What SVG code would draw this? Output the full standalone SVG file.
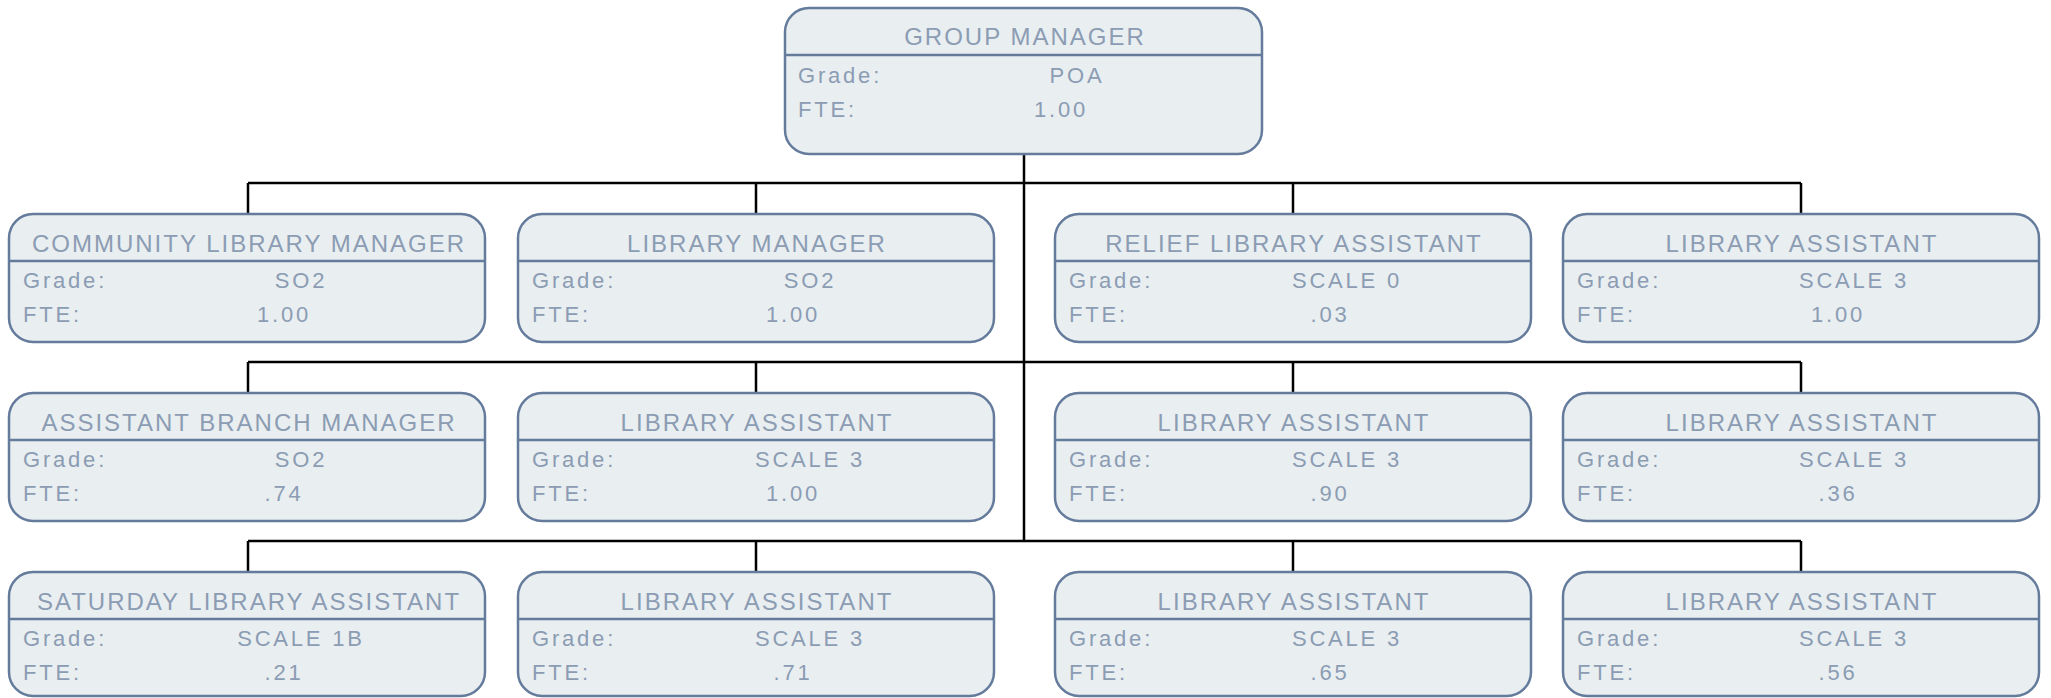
<svg xmlns="http://www.w3.org/2000/svg" width="2051" height="698" viewBox="0 0 2051 698">
<style>
.box{fill:#e9eef1;stroke:#647b9c;stroke-width:2.5}
.div{stroke:#647b9c;stroke-width:2.5}
.t{font-family:"Liberation Sans",Arial,sans-serif;fill:#8b9cb3}
.title{font-size:24px;letter-spacing:2px;text-anchor:middle}
.lbl{font-size:22px;letter-spacing:2.8px}
.val{font-size:22px;letter-spacing:2.8px;text-anchor:middle}
.c{stroke:#000;stroke-width:2.5;fill:none}
</style>
<rect width="2051" height="698" fill="#fff"/>
<g id="connectors">
<path class="c" d="M1024 154V541"/>
<path class="c" d="M248 183H1801M248 183V214M756 183V214M1293 183V214M1801 183V214"/>
<path class="c" d="M248 362H1801M248 362V393M756 362V393M1293 362V393M1801 362V393"/>
<path class="c" d="M248 541H1801M248 541V572M756 541V572M1293 541V572M1801 541V572"/>
</g>
<g id="n0">
<rect class="box" x="785" y="8" width="477" height="146" rx="24"/>
<path class="div" d="M785 55H1262"/>
<text class="t title" x="1025" y="45">GROUP MANAGER</text>
<text class="t lbl" x="798" y="83">Grade:</text>
<text class="t val" x="1077" y="83">POA</text>
<text class="t lbl" x="798" y="117">FTE:</text>
<text class="t val" x="1061" y="117">1.00</text>
</g>
<g id="n1">
<rect class="box" x="9" y="214" width="476" height="128" rx="24"/>
<path class="div" d="M9 261H485"/>
<text class="t title" x="249" y="252">COMMUNITY LIBRARY MANAGER</text>
<text class="t lbl" x="23" y="288">Grade:</text>
<text class="t val" x="301" y="288">SO2</text>
<text class="t lbl" x="23" y="322">FTE:</text>
<text class="t val" x="284" y="322">1.00</text>
</g>
<g id="n2">
<rect class="box" x="518" y="214" width="476" height="128" rx="24"/>
<path class="div" d="M518 261H994"/>
<text class="t title" x="757" y="252">LIBRARY MANAGER</text>
<text class="t lbl" x="532" y="288">Grade:</text>
<text class="t val" x="810" y="288">SO2</text>
<text class="t lbl" x="532" y="322">FTE:</text>
<text class="t val" x="793" y="322">1.00</text>
</g>
<g id="n3">
<rect class="box" x="1055" y="214" width="476" height="128" rx="24"/>
<path class="div" d="M1055 261H1531"/>
<text class="t title" x="1294" y="252">RELIEF LIBRARY ASSISTANT</text>
<text class="t lbl" x="1069" y="288">Grade:</text>
<text class="t val" x="1347" y="288">SCALE 0</text>
<text class="t lbl" x="1069" y="322">FTE:</text>
<text class="t val" x="1330" y="322">.03</text>
</g>
<g id="n4">
<rect class="box" x="1563" y="214" width="476" height="128" rx="24"/>
<path class="div" d="M1563 261H2039"/>
<text class="t title" x="1802" y="252">LIBRARY ASSISTANT</text>
<text class="t lbl" x="1577" y="288">Grade:</text>
<text class="t val" x="1854" y="288">SCALE 3</text>
<text class="t lbl" x="1577" y="322">FTE:</text>
<text class="t val" x="1838" y="322">1.00</text>
</g>
<g id="n5">
<rect class="box" x="9" y="393" width="476" height="128" rx="24"/>
<path class="div" d="M9 440H485"/>
<text class="t title" x="249" y="431">ASSISTANT BRANCH MANAGER</text>
<text class="t lbl" x="23" y="467">Grade:</text>
<text class="t val" x="301" y="467">SO2</text>
<text class="t lbl" x="23" y="501">FTE:</text>
<text class="t val" x="284" y="501">.74</text>
</g>
<g id="n6">
<rect class="box" x="518" y="393" width="476" height="128" rx="24"/>
<path class="div" d="M518 440H994"/>
<text class="t title" x="757" y="431">LIBRARY ASSISTANT</text>
<text class="t lbl" x="532" y="467">Grade:</text>
<text class="t val" x="810" y="467">SCALE 3</text>
<text class="t lbl" x="532" y="501">FTE:</text>
<text class="t val" x="793" y="501">1.00</text>
</g>
<g id="n7">
<rect class="box" x="1055" y="393" width="476" height="128" rx="24"/>
<path class="div" d="M1055 440H1531"/>
<text class="t title" x="1294" y="431">LIBRARY ASSISTANT</text>
<text class="t lbl" x="1069" y="467">Grade:</text>
<text class="t val" x="1347" y="467">SCALE 3</text>
<text class="t lbl" x="1069" y="501">FTE:</text>
<text class="t val" x="1330" y="501">.90</text>
</g>
<g id="n8">
<rect class="box" x="1563" y="393" width="476" height="128" rx="24"/>
<path class="div" d="M1563 440H2039"/>
<text class="t title" x="1802" y="431">LIBRARY ASSISTANT</text>
<text class="t lbl" x="1577" y="467">Grade:</text>
<text class="t val" x="1854" y="467">SCALE 3</text>
<text class="t lbl" x="1577" y="501">FTE:</text>
<text class="t val" x="1838" y="501">.36</text>
</g>
<g id="n9">
<rect class="box" x="9" y="572" width="476" height="124" rx="24"/>
<path class="div" d="M9 619H485"/>
<text class="t title" x="249" y="610">SATURDAY LIBRARY ASSISTANT</text>
<text class="t lbl" x="23" y="646">Grade:</text>
<text class="t val" x="301" y="646">SCALE 1B</text>
<text class="t lbl" x="23" y="680">FTE:</text>
<text class="t val" x="284" y="680">.21</text>
</g>
<g id="n10">
<rect class="box" x="518" y="572" width="476" height="124" rx="24"/>
<path class="div" d="M518 619H994"/>
<text class="t title" x="757" y="610">LIBRARY ASSISTANT</text>
<text class="t lbl" x="532" y="646">Grade:</text>
<text class="t val" x="810" y="646">SCALE 3</text>
<text class="t lbl" x="532" y="680">FTE:</text>
<text class="t val" x="793" y="680">.71</text>
</g>
<g id="n11">
<rect class="box" x="1055" y="572" width="476" height="124" rx="24"/>
<path class="div" d="M1055 619H1531"/>
<text class="t title" x="1294" y="610">LIBRARY ASSISTANT</text>
<text class="t lbl" x="1069" y="646">Grade:</text>
<text class="t val" x="1347" y="646">SCALE 3</text>
<text class="t lbl" x="1069" y="680">FTE:</text>
<text class="t val" x="1330" y="680">.65</text>
</g>
<g id="n12">
<rect class="box" x="1563" y="572" width="476" height="124" rx="24"/>
<path class="div" d="M1563 619H2039"/>
<text class="t title" x="1802" y="610">LIBRARY ASSISTANT</text>
<text class="t lbl" x="1577" y="646">Grade:</text>
<text class="t val" x="1854" y="646">SCALE 3</text>
<text class="t lbl" x="1577" y="680">FTE:</text>
<text class="t val" x="1838" y="680">.56</text>
</g>
</svg>
